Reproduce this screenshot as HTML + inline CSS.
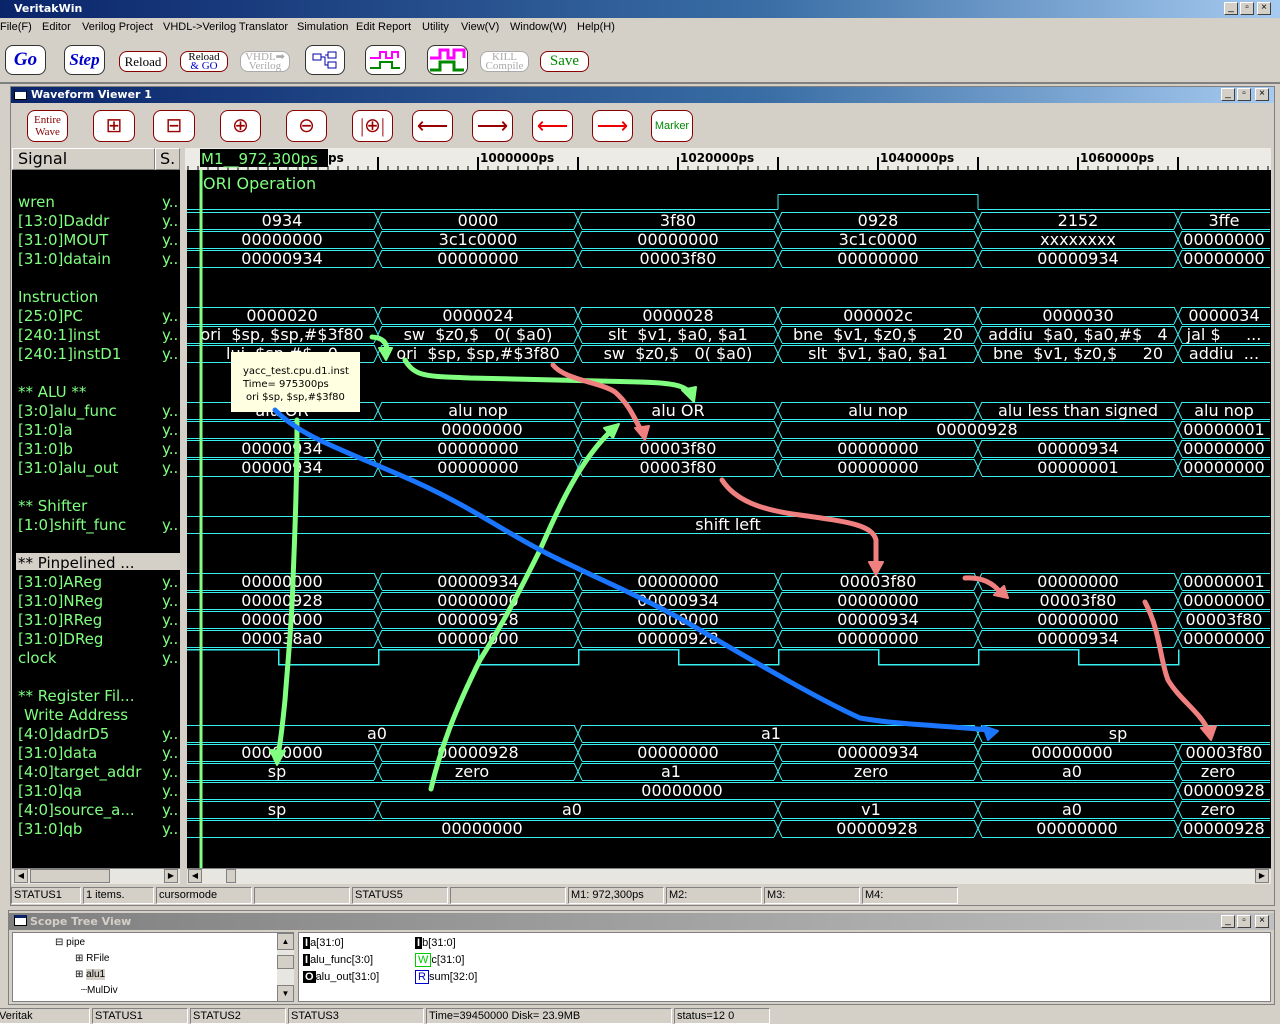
<!DOCTYPE html>
<html><head><meta charset="utf-8"><style>
*{margin:0;padding:0;box-sizing:border-box}
body{width:1280px;height:1024px;overflow:hidden;background:#d4d0c8;position:relative;font-family:"Liberation Sans",sans-serif}
.a{position:absolute}
.tb{position:absolute;background:linear-gradient(90deg,#0a246a,#3a6ea5 60%,#a6caf0);color:#fff;font-weight:bold;font-size:11px;font-family:"DejaVu Sans",sans-serif}
.btn{position:absolute;border:1px solid #333;border-radius:8px;background:#fff;text-align:center;font-family:"Liberation Serif",serif}
.sb{position:absolute;border:1px solid #808080;border-right-color:#fff;border-bottom-color:#fff;font-size:11px;padding-left:2px;line-height:15px;color:#000}
.wb{position:absolute;width:14px;height:13px;background:#d4d0c8;border:1px solid;border-color:#fff #404040 #404040 #fff;font-size:10px;line-height:10px;text-align:center;color:#000}
.sig{font-family:"DejaVu Sans",sans-serif;font-size:15px;fill:#80ff80}
.w{font-family:"DejaVu Sans",sans-serif;font-size:16px;fill:#fff;text-anchor:middle}
.mn{position:absolute;top:21px;font-size:11px;white-space:pre}
</style></head><body>
<div class="tb" style="left:0;top:0;width:1280px;height:18px;line-height:18px;padding-left:14px">VeritakWin</div>
<div class="wb" style="left:1224px;top:2px">_</div><div class="wb" style="left:1240px;top:2px">▫</div><div class="wb" style="left:1257px;top:2px">×</div>
<span class="mn" style="left:0">File(F)</span><span class="mn" style="left:42px">Editor</span><span class="mn" style="left:82px">Verilog Project</span><span class="mn" style="left:163px">VHDL-&gt;Verilog Translator</span><span class="mn" style="left:297px">Simulation</span><span class="mn" style="left:356px">Edit Report</span><span class="mn" style="left:422px">Utility</span><span class="mn" style="left:461px">View(V)</span><span class="mn" style="left:510px">Window(W)</span><span class="mn" style="left:577px">Help(H)</span>
<div class="btn" style="left:5px;top:45px;width:41px;height:30px;color:#00c;font-style:italic;font-weight:bold;font-size:19px;line-height:28px">Go</div>
<div class="btn" style="left:64px;top:45px;width:41px;height:30px;color:#00c;font-style:italic;font-weight:bold;font-size:17px;line-height:28px">Step</div>
<div class="btn" style="left:119px;top:51px;width:48px;height:21px;border-color:#800;font-size:13px;line-height:19px">Reload</div>
<div class="btn" style="left:180px;top:51px;width:48px;height:21px;border-color:#800;font-size:11px;line-height:9px;padding-top:1px">Reload<br><span style="color:#00c">&amp; GO</span></div>
<div class="btn" style="left:240px;top:51px;width:50px;height:21px;border-color:#aaa;color:#aaa;font-size:11px;line-height:9px;padding-top:1px">VHDL➡<br>Verilog</div>
<div class="btn" style="left:305px;top:45px;width:40px;height:30px"><svg width="38" height="28"><rect x="7" y="8" width="8" height="6" fill="none" stroke="#00a"/><rect x="22" y="6" width="8" height="6" fill="none" stroke="#00a"/><rect x="22" y="16" width="8" height="6" fill="none" stroke="#00a"/><path d="M15 11H19V19H22M19 9H22" stroke="#00a" fill="none"/></svg></div>
<div class="btn" style="left:365px;top:45px;width:41px;height:30px"><svg width="40" height="28"><path d="M4 12H14V6H20V12H26V6H32V12" stroke="#f0f" stroke-width="2" fill="none"/><path d="M4 22H14V16H26V22H34" stroke="#080" stroke-width="2" fill="none"/></svg></div>
<div class="btn" style="left:427px;top:45px;width:41px;height:30px"><svg width="40" height="28"><path d="M2 12H12V4H20V12H26V4H36V12" stroke="#f0f" stroke-width="3" fill="none"/><path d="M2 24H12V16H26V24H36" stroke="#080" stroke-width="3" fill="none"/></svg></div>
<div class="btn" style="left:480px;top:51px;width:49px;height:21px;border-color:#aaa;color:#aaa;font-size:11px;line-height:9px;padding-top:1px">KILL<br>Compile</div>
<div class="btn" style="left:540px;top:51px;width:49px;height:21px;border-color:#800;color:#080;font-size:15px;line-height:19px">Save</div>
<div class="a" style="left:0;top:82px;width:1280px;height:2px;background:#808080"></div>
<div class="a" style="left:10px;top:86px;width:1265px;height:820px;background:#d4d0c8;border:1px solid #808080"></div>
<div class="tb" style="left:11px;top:87px;width:1263px;height:16px;line-height:16px;padding-left:20px">Waveform Viewer 1</div>
<div class="a" style="left:14px;top:89px;width:13px;height:11px;background:#fff;border:1px solid #000;border-top:3px solid #0a246a"></div>
<div class="wb" style="left:1221px;top:88px">_</div><div class="wb" style="left:1237px;top:88px">▫</div><div class="wb" style="left:1255px;top:88px">×</div>
<div class="btn" style="left:27px;top:110px;width:41px;height:32px;border-color:#800;color:#800;font-size:11px;line-height:12px;padding-top:3px">Entire<br>Wave</div>
<div class="btn" style="left:93px;top:110px;width:42px;height:32px;border-color:#800;color:#900;font-size:20px;line-height:30px">⊞</div>
<div class="btn" style="left:153px;top:110px;width:42px;height:32px;border-color:#800;color:#900;font-size:20px;line-height:30px">⊟</div>
<div class="btn" style="left:220px;top:110px;width:41px;height:32px;border-color:#800;color:#900;font-size:20px;line-height:30px">⊕</div>
<div class="btn" style="left:286px;top:110px;width:41px;height:32px;border-color:#800;color:#900;font-size:20px;line-height:30px">⊖</div>
<div class="btn" style="left:352px;top:110px;width:41px;height:32px;border-color:#800;color:#900;font-size:20px;line-height:30px">|⊕|</div>
<div class="btn" style="left:412px;top:110px;width:41px;height:32px;border-color:#800;color:#900;font-size:22px;line-height:30px">⟵</div>
<div class="btn" style="left:472px;top:110px;width:41px;height:32px;border-color:#800;color:#900;font-size:22px;line-height:30px">⟶</div>
<div class="btn" style="left:532px;top:110px;width:41px;height:32px;border-color:#800;color:#e00;font-size:22px;line-height:30px">⟵</div>
<div class="btn" style="left:592px;top:110px;width:41px;height:32px;border-color:#800;color:#e00;font-size:22px;line-height:30px">⟶</div>
<div class="btn" style="left:651px;top:110px;width:42px;height:32px;border-color:#800;color:#080;font-size:11px;line-height:30px;font-family:'Liberation Sans',sans-serif">Marker</div>
<div class="a" style="left:12px;top:148px;width:143px;height:22px;background:#d4d0c8;border:1px solid;border-color:#fff #808080 #808080 #fff;font-family:'DejaVu Sans',sans-serif;font-size:16px;padding-left:5px;line-height:20px">Signal</div>
<div class="a" style="left:155px;top:148px;width:25px;height:22px;background:#d4d0c8;border:1px solid;border-color:#fff #808080 #808080 #fff;font-family:'DejaVu Sans',sans-serif;font-size:16px;padding-left:4px;line-height:20px">S.</div>
<div class="a" style="left:185px;top:148px;width:1086px;height:22px;background:#ecebe6"></div>
<svg class="a" style="left:0;top:0" width="1280" height="1024" id="sv">
<rect x="12" y="170" width="168" height="698" fill="#000"/>
<rect x="187" y="170" width="1084" height="698" fill="#000"/>
<rect x="16" y="553" width="164" height="17" fill="#d4d0c8"/>
<g id="g" shape-rendering="crispEdges"></g>
<rect x="200" y="149" width="128" height="18" fill="#000"/>
<text x="201" y="164" style="font-family:'DejaVu Sans',sans-serif;font-size:15px;fill:#80ff80">M1__972,300ps</text>
<text x="328" y="162" style="font-family:'DejaVu Sans',sans-serif;font-size:12px;font-weight:bold">ps</text>
<g style="font-family:'DejaVu Sans',sans-serif;font-size:12px;font-weight:bold">
<text x="480" y="162">1000000ps</text><text x="680" y="162">1020000ps</text><text x="880" y="162">1040000ps</text><text x="1080" y="162">1060000ps</text></g>
<text x="203" y="189" style="font-family:'DejaVu Sans',sans-serif;font-size:16px;fill:#80ff80">ORI Operation</text>
<g class="sig">
<text x="18" y="207">wren</text><text x="18" y="226">[13:0]Daddr</text><text x="18" y="245">[31:0]MOUT</text><text x="18" y="264">[31:0]datain</text>
<text x="18" y="302">Instruction</text><text x="18" y="321">[25:0]PC</text><text x="18" y="340">[240:1]inst</text><text x="18" y="359">[240:1]instD1</text>
<text x="18" y="397">** ALU **</text><text x="18" y="416">[3:0]alu_func</text><text x="18" y="435">[31:0]a</text><text x="18" y="454">[31:0]b</text><text x="18" y="473">[31:0]alu_out</text>
<text x="18" y="511">** Shifter</text><text x="18" y="530">[1:0]shift_func</text>
<text x="18" y="568" style="fill:#000">** Pinpelined ...</text><text x="18" y="587">[31:0]AReg</text><text x="18" y="606">[31:0]NReg</text><text x="18" y="625">[31:0]RReg</text><text x="18" y="644">[31:0]DReg</text><text x="18" y="663">clock</text>
<text x="18" y="701">** Register Fil...</text><text x="24" y="720">Write Address</text><text x="18" y="739">[4:0]dadrD5</text><text x="18" y="758">[31:0]data</text><text x="18" y="777">[4:0]target_addr</text><text x="18" y="796">[31:0]qa</text><text x="18" y="815">[4:0]source_a...</text><text x="18" y="834">[31:0]qb</text>
<text x="162" y="207">y..</text><text x="162" y="226">y..</text><text x="162" y="245">y..</text><text x="162" y="264">y..</text><text x="162" y="321">y..</text><text x="162" y="340">y..</text><text x="162" y="359">y..</text><text x="162" y="416">y..</text><text x="162" y="435">y..</text><text x="162" y="454">y..</text><text x="162" y="473">y..</text><text x="162" y="530">y..</text><text x="162" y="587">y..</text><text x="162" y="606">y..</text><text x="162" y="625">y..</text><text x="162" y="644">y..</text><text x="162" y="663">y..</text><text x="162" y="739">y..</text><text x="162" y="758">y..</text><text x="162" y="777">y..</text><text x="162" y="796">y..</text><text x="162" y="815">y..</text><text x="162" y="834">y..</text>
</g>
<g class="w">
<text x="282" y="226">0934</text><text x="478" y="226">0000</text><text x="678" y="226">3f80</text><text x="878" y="226">0928</text><text x="1078" y="226">2152</text><text x="1224" y="226">3ffe</text>
<text x="282" y="245">00000000</text><text x="478" y="245">3c1c0000</text><text x="678" y="245">00000000</text><text x="878" y="245">3c1c0000</text><text x="1078" y="245">xxxxxxxx</text><text x="1224" y="245">00000000</text>
<text x="282" y="264">00000934</text><text x="478" y="264">00000000</text><text x="678" y="264">00003f80</text><text x="878" y="264">00000000</text><text x="1078" y="264">00000934</text><text x="1224" y="264">00000000</text>
<text x="282" y="321">0000020</text><text x="478" y="321">0000024</text><text x="678" y="321">0000028</text><text x="878" y="321">000002c</text><text x="1078" y="321">0000030</text><text x="1224" y="321">0000034</text>
<text x="282" y="340" xml:space="preserve">ori  $sp, $sp,#$3f80</text><text x="478" y="340" xml:space="preserve">sw  $z0,$   0( $a0)</text><text x="678" y="340" xml:space="preserve">slt  $v1, $a0, $a1</text><text x="878" y="340" xml:space="preserve">bne  $v1, $z0,$     20</text><text x="1078" y="340" xml:space="preserve">addiu  $a0, $a0,#$   4</text><text x="1224" y="340" xml:space="preserve">jal $     ...</text>
<text x="282" y="359" xml:space="preserve">lui  $sp,#$   0</text><text x="478" y="359" xml:space="preserve">ori  $sp, $sp,#$3f80</text><text x="678" y="359" xml:space="preserve">sw  $z0,$   0( $a0)</text><text x="878" y="359" xml:space="preserve">slt  $v1, $a0, $a1</text><text x="1078" y="359" xml:space="preserve">bne  $v1, $z0,$     20</text><text x="1224" y="359" xml:space="preserve">addiu  ...</text>
<text x="282" y="416">alu OR</text><text x="478" y="416">alu nop</text><text x="678" y="416">alu OR</text><text x="878" y="416">alu nop</text><text x="1078" y="416">alu less than signed</text><text x="1224" y="416">alu nop</text>
<text x="482" y="435">00000000</text><text x="977" y="435">00000928</text><text x="1224" y="435">00000001</text>
<text x="282" y="454">00000934</text><text x="478" y="454">00000000</text><text x="678" y="454">00003f80</text><text x="878" y="454">00000000</text><text x="1078" y="454">00000934</text><text x="1224" y="454">00000000</text>
<text x="282" y="473">00000934</text><text x="478" y="473">00000000</text><text x="678" y="473">00003f80</text><text x="878" y="473">00000000</text><text x="1078" y="473">00000001</text><text x="1224" y="473">00000000</text>
<text x="728" y="530">shift left</text>
<text x="282" y="587">00000000</text><text x="478" y="587">00000934</text><text x="678" y="587">00000000</text><text x="878" y="587">00003f80</text><text x="1078" y="587">00000000</text><text x="1224" y="587">00000001</text>
<text x="282" y="606">00000928</text><text x="478" y="606">00000000</text><text x="678" y="606">00000934</text><text x="878" y="606">00000000</text><text x="1078" y="606">00003f80</text><text x="1224" y="606">00000000</text>
<text x="282" y="625">00000000</text><text x="478" y="625">00000928</text><text x="678" y="625">00000000</text><text x="878" y="625">00000934</text><text x="1078" y="625">00000000</text><text x="1224" y="625">00003f80</text>
<text x="282" y="644">000038a0</text><text x="478" y="644">00000000</text><text x="678" y="644">00000928</text><text x="878" y="644">00000000</text><text x="1078" y="644">00000934</text><text x="1224" y="644">00000000</text>
<text x="377" y="739">a0</text><text x="771" y="739">a1</text><text x="1118" y="739">sp</text>
<text x="282" y="758">00000000</text><text x="478" y="758">00000928</text><text x="678" y="758">00000000</text><text x="878" y="758">00000934</text><text x="1072" y="758">00000000</text><text x="1224" y="758">00003f80</text>
<text x="277" y="777">sp</text><text x="472" y="777">zero</text><text x="671" y="777">a1</text><text x="871" y="777">zero</text><text x="1072" y="777">a0</text><text x="1218" y="777">zero</text>
<text x="682" y="796">00000000</text><text x="1224" y="796">00000928</text>
<text x="277" y="815">sp</text><text x="572" y="815">a0</text><text x="871" y="815">v1</text><text x="1072" y="815">a0</text><text x="1218" y="815">zero</text>
<text x="482" y="834">00000000</text><text x="877" y="834">00000928</text><text x="1077" y="834">00000000</text><text x="1224" y="834">00000928</text>
</g>
<line x1="201" y1="170" x2="201" y2="868" stroke="#80ff80" stroke-width="3"/>
<rect x="231" y="352" width="129" height="60" fill="#ffffe1"/>
<g style="font-family:'DejaVu Sans',sans-serif;font-size:10px;fill:#000"><text x="243" y="374">yacc_test.cpu.d1.inst</text><text x="243" y="387">Time= 975300ps</text><text x="246" y="400">ori  $sp, $sp,#$3f80</text></g>
<g fill="none" stroke-width="5" stroke-linecap="round" stroke-linejoin="round">
<path d="M372 337 C385 338 388 345 386 352" stroke="#80ff80"/><path d="M379 348 L386 360 L392 348Z" fill="#80ff80" stroke="#80ff80" stroke-width="2"/>
<path d="M405 360 C415 378 430 376 470 378 L640 382 C675 383 685 386 690 393" stroke="#80ff80"/><path d="M682 390 L694 402 L696 387Z" fill="#80ff80" stroke="#80ff80" stroke-width="2"/>
<path d="M553 365 C565 380 600 382 615 392 C630 405 635 420 642 432" stroke="#f08080"/><path d="M635 428 L645 440 L649 426Z" fill="#f08080" stroke="#f08080" stroke-width="2"/>
<path d="M297 420 C297 480 295 530 293 580 C292 620 288 660 285 700 C282 730 280 745 278 755" stroke="#80ff80"/><path d="M270 750 L277 765 L285 751Z" fill="#80ff80" stroke="#80ff80" stroke-width="2"/>
<path d="M431 789 C440 750 455 710 480 660 C505 620 520 590 540 550 C560 505 580 460 612 430" stroke="#80ff80"/><path d="M604 428 L619 424 L613 438Z" fill="#80ff80" stroke="#80ff80" stroke-width="2"/>
<path d="M275 410 C300 435 330 445 400 475 C470 505 500 530 550 555 C600 580 650 600 700 630 C760 665 820 700 860 718 C900 725 940 725 988 730" stroke="#1a75ff"/><path d="M983 726 L998 731 L988 740Z" fill="#1a75ff" stroke="#1a75ff" stroke-width="2"/>
<path d="M722 480 C735 500 760 510 800 515 C850 522 872 525 876 540 L876 565" stroke="#f08080"/><path d="M869 562 L876 575 L883 562Z" fill="#f08080" stroke="#f08080" stroke-width="2"/>
<path d="M965 578 C980 577 992 582 1000 592" stroke="#f08080"/><path d="M994 595 L1008 598 L1004 586Z" fill="#f08080" stroke="#f08080" stroke-width="2"/>
<path d="M1145 602 C1160 630 1160 660 1168 680 C1180 700 1200 712 1208 730" stroke="#f08080"/><path d="M1201 728 L1211 740 L1216 726Z" fill="#f08080" stroke="#f08080" stroke-width="2"/>
</g>
</svg>
<div class="a" style="left:12px;top:868px;width:168px;height:16px;background:#e8e6e0;border-top:1px solid #808080"></div>
<div class="a" style="left:14px;top:869px;width:14px;height:14px;background:#d4d0c8;border:1px solid #808080;font-size:8px;text-align:center;line-height:12px">◀</div>
<div class="a" style="left:30px;top:869px;width:80px;height:14px;background:#d4d0c8;border:1px solid #808080"></div>
<div class="a" style="left:164px;top:869px;width:14px;height:14px;background:#d4d0c8;border:1px solid #808080;font-size:8px;text-align:center;line-height:12px">▶</div>
<div class="a" style="left:187px;top:868px;width:1084px;height:16px;background:#e8e6e0;border-top:1px solid #808080"></div>
<div class="a" style="left:188px;top:869px;width:14px;height:14px;background:#d4d0c8;border:1px solid #808080;font-size:8px;text-align:center;line-height:12px">◀</div>
<div class="a" style="left:226px;top:869px;width:10px;height:14px;background:#d4d0c8;border:1px solid #808080"></div>
<div class="a" style="left:1255px;top:869px;width:14px;height:14px;background:#d4d0c8;border:1px solid #808080;font-size:8px;text-align:center;line-height:12px">▶</div>
<div class="sb" style="left:11px;top:887px;width:70px;height:17px">STATUS1</div>
<div class="sb" style="left:83px;top:887px;width:71px;height:17px">1 items.</div>
<div class="sb" style="left:156px;top:887px;width:96px;height:17px">cursormode</div>
<div class="sb" style="left:254px;top:887px;width:96px;height:17px"></div>
<div class="sb" style="left:352px;top:887px;width:96px;height:17px">STATUS5</div>
<div class="sb" style="left:450px;top:887px;width:116px;height:17px"></div>
<div class="sb" style="left:568px;top:887px;width:96px;height:17px">M1: 972,300ps</div>
<div class="sb" style="left:666px;top:887px;width:96px;height:17px">M2:</div>
<div class="sb" style="left:764px;top:887px;width:96px;height:17px">M3:</div>
<div class="sb" style="left:862px;top:887px;width:96px;height:17px">M4:</div>
<div class="a" style="left:8px;top:910px;width:1267px;height:95px;background:#d4d0c8;border:1px solid #808080"></div>
<div class="a" style="left:9px;top:913px;width:1265px;height:17px;background:linear-gradient(90deg,#808080,#c0c0c0);color:#d4d0c8;font-weight:bold;font-size:11px;line-height:17px;padding-left:21px;font-family:'DejaVu Sans',sans-serif">Scope Tree View</div>
<div class="a" style="left:14px;top:915px;width:13px;height:11px;background:#fff;border:1px solid #000;border-top:3px solid #0a246a"></div>
<div class="wb" style="left:1221px;top:915px">_</div><div class="wb" style="left:1237px;top:915px">▫</div><div class="wb" style="left:1255px;top:915px">×</div>
<div class="a" style="left:12px;top:932px;width:282px;height:70px;background:#fff;border:1px solid #808080;font-size:10px;line-height:16px">
<div class="a" style="left:42px;top:2px">⊟ pipe</div><div class="a" style="left:62px;top:18px">⊞ RFile</div><div class="a" style="left:62px;top:34px">⊞ <span style="background:#d4d0c8">alu1</span></div><div class="a" style="left:68px;top:50px">┈MulDiv</div>
<div class="a" style="left:264px;top:0;width:17px;height:69px;background:#e8e6e0"></div>
<div class="a" style="left:264px;top:0;width:17px;height:17px;background:#d4d0c8;border:1px solid #808080;font-size:8px;text-align:center;line-height:15px">▲</div>
<div class="a" style="left:264px;top:22px;width:17px;height:14px;background:#d4d0c8;border:1px solid #808080"></div>
<div class="a" style="left:264px;top:52px;width:17px;height:17px;background:#d4d0c8;border:1px solid #808080;font-size:8px;text-align:center;line-height:15px">▼</div>
</div>
<div class="a" style="left:298px;top:932px;width:973px;height:70px;background:#fff;border:1px solid #808080;font-size:11px;line-height:17px">
<div class="a" style="left:4px;top:2px"><b style="background:#000;color:#fff;padding:0 2px">I</b>a[31:0]</div>
<div class="a" style="left:4px;top:19px"><b style="background:#000;color:#fff;padding:0 2px">I</b>alu_func[3:0]</div>
<div class="a" style="left:4px;top:36px"><b style="background:#000;color:#fff;padding:0 2px">O</b>alu_out[31:0]</div>
<div class="a" style="left:116px;top:2px"><b style="background:#000;color:#fff;padding:0 2px">I</b>b[31:0]</div>
<div class="a" style="left:116px;top:19px"><span style="border:1px solid #0c0;color:#0c0;padding:0 2px">W</span>c[31:0]</div>
<div class="a" style="left:116px;top:36px"><span style="border:1px solid #00c;color:#00c;padding:0 2px">R</span>sum[32:0]</div>
</div>
<div class="sb" style="left:-4px;top:1008px;width:94px;height:16px">Veritak</div>
<div class="sb" style="left:92px;top:1008px;width:96px;height:16px">STATUS1</div>
<div class="sb" style="left:190px;top:1008px;width:96px;height:16px">STATUS2</div>
<div class="sb" style="left:288px;top:1008px;width:136px;height:16px">STATUS3</div>
<div class="sb" style="left:426px;top:1008px;width:246px;height:16px">Time=39450000 Disk= 23.9MB</div>
<div class="sb" style="left:674px;top:1008px;width:96px;height:16px">status=12 0</div>
<script>
(function(){
var g=document.getElementById('g'),s='',C='#38f0f0';
function L(a,b,c,d,w){s+='<line x1="'+a+'" y1="'+(b+0.5)+'" x2="'+c+'" y2="'+(d+0.5)+'" stroke="'+C+'" stroke-width="'+(w||1)+'"/>';}
for(var x=188;x<1270;x+=10){var m=((x-178)%100==0);s+='<line x1="'+x+'" y1="'+(m?157:166)+'" x2="'+x+'" y2="170" stroke="#000" stroke-width="'+(m?2:1)+'"/>';}
var T=[378,578,778,978,1178];
function bus(k,tr){var c=201+19*k,t=c-8,b=c+9,xs=[187].concat(tr).concat([1270]);
for(var i=0;i<xs.length-1;i++){var a=xs[i]+(i?4:0),e=xs[i+1]-(i<xs.length-2?4:0);L(a,t,e,t);L(a,b,e,b);}
tr.forEach(function(x){s+='<g shape-rendering="auto"><line x1="'+(x-4)+'" y1="'+t+'" x2="'+(x+4)+'" y2="'+b+'" stroke="'+C+'"/><line x1="'+(x-4)+'" y1="'+b+'" x2="'+(x+4)+'" y2="'+t+'" stroke="'+C+'"/></g>';});}
[1,2,3,6,7,8,11,13,14,20,21,22,23,29,30].forEach(function(k){bus(k,T);});
bus(12,[578,778,1178]);bus(17,[]);bus(28,[578,978]);bus(31,[1178]);bus(32,[378,778,978,1178]);bus(33,[778,978,1178]);
L(187,209,778,209);L(778,194,778,209);L(778,194,978,194);L(978,194,978,209);L(978,209,1270,209);
var p='M187 649.5';for(var x=278;x<1270;x+=200){p+=' H'+(x+0.5)+' V664.5 H'+(Math.min(x+100,1270)+0.5)+(x+100<1270?' V649.5':'');}
s+='<path d="'+p+'" fill="none" stroke="'+C+'" stroke-width="1.5"/>';
g.innerHTML=s;})();
</script>
</body></html>
